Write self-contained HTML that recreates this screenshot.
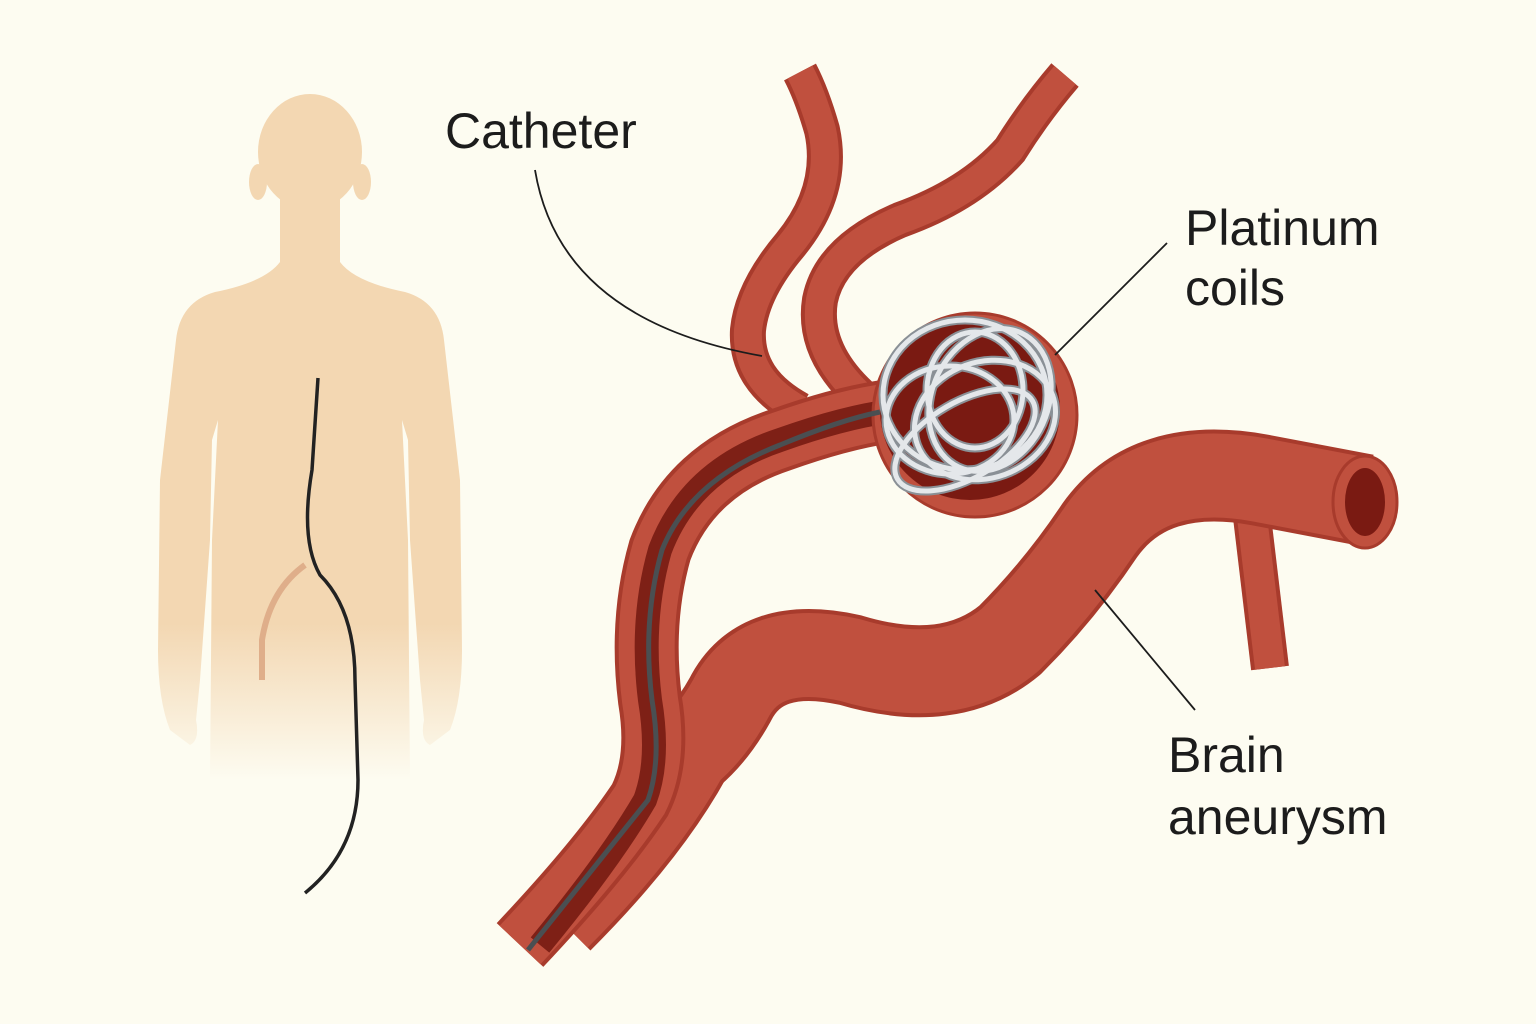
<!DOCTYPE html>
<html><head><meta charset="utf-8"><style>
html,body{margin:0;padding:0;background:#fdfcf1;}
svg{display:block}
text{font-family:"Liberation Sans",sans-serif;fill:#1c1c1c}
</style></head><body>
<svg width="1536" height="1024" viewBox="0 0 1536 1024">
<defs>
<linearGradient id="fade" gradientUnits="userSpaceOnUse" x1="0" y1="0" x2="0" y2="780">
<stop offset="0.8" stop-color="#f3d7b2"/><stop offset="1" stop-color="#f3d7b2" stop-opacity="0"/>
</linearGradient>
</defs>
<rect width="1536" height="1024" fill="#fdfcf1"/>
<g fill="url(#fade)">
<ellipse cx="310" cy="152" rx="52" ry="58"/>
<ellipse cx="258" cy="182" rx="9" ry="18"/><ellipse cx="362" cy="182" rx="9" ry="18"/>
<path d="M280 195 L280 262 Q265 282 215 292 Q180 302 176 340 L160 480 L158 650 Q158 700 170 730 L190 745 Q200 740 196 720 L200 680 L210 540 L212 440 L218 420 L212 540 L210 780 L410 780 L408 540 L402 420 L408 440 L410 540 L420 680 L424 720 Q420 740 430 745 L450 730 Q462 700 462 650 L460 480 L444 340 Q440 302 405 292 Q355 282 340 262 L340 195 Z"/>
</g>
<path d="M305 565 Q270 590 262 640 L262 680" stroke="#dfae8a" stroke-width="6" fill="none"/>
<path d="M318 378 L312 470 Q300 540 320 575 Q355 610 355 680 L358 780 Q358 850 305 893" stroke="#222" stroke-width="3.5" fill="none"/>
<g fill="none">
<path d="M800 410 Q745 380 748 330 Q752 290 790 245 Q835 190 822 130 Q812 95 800 72" stroke="#a83b2c" stroke-width="36"/>
<path d="M800 410 Q745 380 748 330 Q752 290 790 245 Q835 190 822 130 Q812 95 800 72" stroke="#c0503e" stroke-width="28"/>
<path d="M860 395 Q812 350 820 300 Q830 250 900 220 Q970 195 1010 150 Q1035 110 1065 75" stroke="#a83b2c" stroke-width="36"/>
<path d="M860 395 Q812 350 820 300 Q830 250 900 220 Q970 195 1010 150 Q1035 110 1065 75" stroke="#c0503e" stroke-width="28"/>
<path d="M1250 500 Q1262 600 1270 668" stroke="#a83b2c" stroke-width="38"/>
<path d="M1250 500 Q1262 600 1270 668" stroke="#c0503e" stroke-width="30"/>
<path d="M710 730 Q670 820 565 925" stroke="#a83b2c" stroke-width="72"/>
<path d="M670 765 Q705 745 730 700 Q760 640 850 660 Q950 690 1010 640 Q1060 590 1100 530 Q1150 460 1260 480 L1365 500" stroke="#a83b2c" stroke-width="92"/>
<path d="M710 730 Q670 820 565 925" stroke="#c0503e" stroke-width="64"/>
<path d="M670 765 Q705 745 730 700 Q760 640 850 660 Q950 690 1010 640 Q1060 590 1100 530 Q1150 460 1260 480 L1365 500" stroke="#c0503e" stroke-width="84"/>
</g>
<ellipse cx="1365" cy="502" rx="32" ry="46" fill="#c0503e" stroke="#a83b2c" stroke-width="3"/>
<ellipse cx="1365" cy="502" rx="20" ry="34" fill="#7a1a12"/>
<g fill="none">
<path d="M520 945 Q600 860 640 800 Q660 760 650 700 Q640 620 660 550 Q690 470 780 440 Q850 415 900 410" stroke="#a83b2c" stroke-width="64"/>
<path d="M520 945 Q600 860 640 800 Q660 760 650 700 Q640 620 660 550 Q690 470 780 440 Q850 415 900 410" stroke="#c0503e" stroke-width="56"/>
<path d="M540 945 Q610 860 645 800 Q660 760 650 700 Q640 620 660 550 Q690 470 780 440 Q850 415 900 410" stroke="#7e2016" stroke-width="24"/>
</g>
<circle cx="975" cy="415" r="102" fill="#c0503e" stroke="#a83b2c" stroke-width="3"/>
<circle cx="970" cy="410" r="90" fill="#7a1a12"/>
<path d="M528 950 Q600 860 648 800 Q662 760 652 700 Q642 620 662 550 Q690 480 780 445 Q840 420 880 412" stroke="#4a4f52" stroke-width="5" fill="none"/>
<g fill="none" stroke="#8a9096" stroke-width="9">
<ellipse cx="965" cy="395" rx="82" ry="75"/>
<ellipse cx="985" cy="420" rx="72" ry="58" transform="rotate(-20 985 420)"/>
<ellipse cx="950" cy="420" rx="64" ry="54"/>
<ellipse cx="990" cy="400" rx="58" ry="74" transform="rotate(25 990 400)"/>
<ellipse cx="965" cy="440" rx="78" ry="38" transform="rotate(-30 965 440)"/>
<ellipse cx="975" cy="390" rx="48" ry="58"/>
</g>
<g fill="none" stroke="#e4e7ea" stroke-width="5">
<ellipse cx="965" cy="395" rx="82" ry="75"/>
<ellipse cx="985" cy="420" rx="72" ry="58" transform="rotate(-20 985 420)"/>
<ellipse cx="950" cy="420" rx="64" ry="54"/>
<ellipse cx="990" cy="400" rx="58" ry="74" transform="rotate(25 990 400)"/>
<ellipse cx="965" cy="440" rx="78" ry="38" transform="rotate(-30 965 440)"/>
<ellipse cx="975" cy="390" rx="48" ry="58"/>
</g>
<g stroke="#1c1c1c" stroke-width="1.8" fill="none">
<path d="M535 170 Q560 320 762 356"/>
<path d="M1167 243 L1055 355"/>
<path d="M1095 590 L1195 710"/>
</g>
<text x="445" y="148" font-size="50">Catheter</text>
<text x="1185" y="245" font-size="50">Platinum</text>
<text x="1185" y="305" font-size="50">coils</text>
<text x="1168" y="772" font-size="50">Brain</text>
<text x="1168" y="834" font-size="50">aneurysm</text>
</svg>
</body></html>
